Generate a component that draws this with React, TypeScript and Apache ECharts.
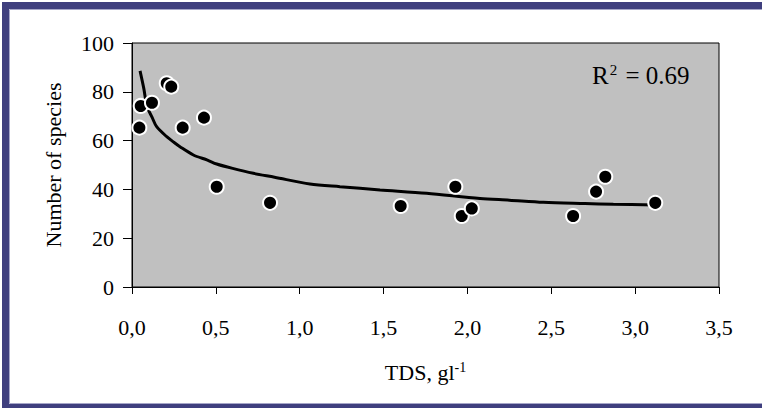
import React, { useEffect, useRef } from "react";
import * as echarts from "echarts";

// Observed points (TDS g/l, number of species)
const tdsValues = [0.044, 0.052, 0.119, 0.207, 0.234, 0.302, 0.429, 0.505, 0.823, 1.602, 1.928, 1.966, 2.026, 2.63, 2.767, 2.822, 3.12];
const speciesValues = [65.3, 74.2, 75.5, 83.5, 82.1, 65.3, 69.4, 41.1, 34.5, 33.2, 41.1, 29.1, 32.2, 29.1, 39.1, 45.2, 34.5];

// Trend curve
const trendX = [0.048, 0.07, 0.09, 0.12, 0.147, 0.207, 0.25, 0.286, 0.366, 0.45, 0.505, 0.6, 0.724, 0.85, 1.061, 1.24, 1.479, 1.757, 2.075, 2.25, 2.453, 2.7, 2.87, 3.12];
const trendY = [88.6, 81.5, 73.9, 69.5, 65.7, 61.6, 59.3, 57.5, 54.1, 52.0, 50.4, 48.6, 46.6, 45.0, 42.2, 41.1, 39.8, 38.4, 36.3, 35.6, 34.7, 34.2, 33.9, 33.6];

const xTicks = [0, 0.5, 1.0, 1.5, 2.0, 2.5, 3.0, 3.5];
const yTicks = [0, 20, 40, 60, 80, 100];
const r2Label = "0.69";

const FONT = "Liberation Serif";

export default function App() {
  const ref = useRef<HTMLDivElement>(null);
  useEffect(() => {
    if (!ref.current) return;
    const chart = echarts.init(ref.current, null, { renderer: "svg" });
    chart.setOption({
      animation: false,
      backgroundColor: "#fff",
      grid: {
        left: 132,
        top: 43,
        right: 43,
        bottom: 121,
        show: true,
        backgroundColor: "#c0c0c0",
        borderColor: "#000",
        borderWidth: 1,
      },
      xAxis: {
        type: "value",
        min: xTicks[0],
        max: xTicks[xTicks.length - 1],
        interval: 0.5,
        name: "TDS, gl{sup|-1}",
        nameLocation: "middle",
        nameGap: 73,
        nameTextStyle: {
          fontFamily: FONT,
          fontSize: 22,
          color: "#000",
          rich: {
            sup: { fontFamily: FONT, fontSize: 14, color: "#000", verticalAlign: "top", padding: [0, 0, 10, 0] },
          },
        },
        axisLine: { show: true, lineStyle: { color: "#000", width: 1 } },
        axisTick: { show: true, inside: false, length: 7, lineStyle: { color: "#000" } },
        axisLabel: {
          fontFamily: FONT,
          fontSize: 22,
          color: "#000",
          margin: 29,
          formatter: (v: number) => v.toFixed(1).replace(".", ","),
        },
        splitLine: { show: false },
      },
      yAxis: {
        type: "value",
        min: yTicks[0],
        max: yTicks[yTicks.length - 1],
        interval: 20,
        name: "Number of species",
        nameLocation: "middle",
        nameGap: 68,
        nameTextStyle: { fontFamily: FONT, fontSize: 22, color: "#000" },
        axisLine: { show: true, lineStyle: { color: "#000", width: 1 } },
        axisTick: { show: true, inside: false, length: 9, lineStyle: { color: "#000" } },
        axisLabel: { fontFamily: FONT, fontSize: 22, color: "#000", margin: 18 },
        splitLine: { show: false },
      },
      series: [
        {
          type: "line",
          data: trendX.map((x, i) => [x, trendY[i]]),
          showSymbol: false,
          smooth: 0.3,
          lineStyle: { color: "#000", width: 3 },
          z: 2,
        },
        {
          type: "scatter",
          data: tdsValues.map((x, i) => [x, speciesValues[i]]),
          symbol: "circle",
          symbolSize: 14,
          itemStyle: { color: "#000", borderColor: "#fff", borderWidth: 2, opacity: 1 },
          z: 3,
        },
      ],
      graphic: [
        {
          type: "rect",
          shape: { x: 5.5, y: 5.5, width: 800, height: 402 },
          style: { fill: "none", stroke: "#3f3f7e", lineWidth: 7 },
          silent: true,
        },
        {
          type: "rect",
          shape: { x: 9.5, y: 9.5, width: 800, height: 394 },
          style: { fill: "none", stroke: "#a6a6c8", lineWidth: 1 },
          silent: true,
        },
        {
          type: "text",
          left: 592,
          top: 62,
          style: {
            text: "R{sup|2} = " + r2Label,
            fontFamily: FONT,
            fontSize: 25,
            fill: "#000",
            rich: {
              sup: { fontFamily: FONT, fontSize: 15, fill: "#000", verticalAlign: "top", padding: [0, 2, 12, 1] },
            },
          },
          silent: true,
        },
      ],
    });
    return () => chart.dispose();
  }, []);
  return (
    <div
      ref={ref}
      style={{ position: "absolute", left: 0, top: 0, width: 762, height: 408 }}
    />
  );
}
